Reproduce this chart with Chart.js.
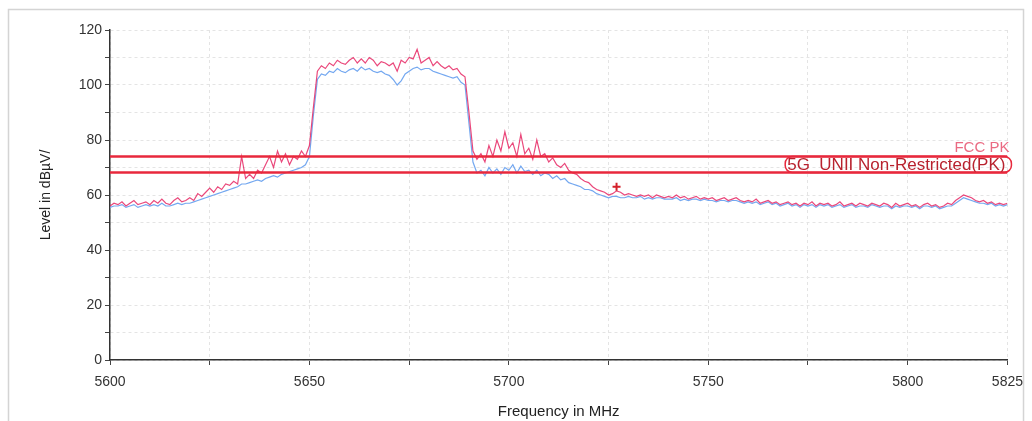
<!DOCTYPE html>
<html>
<head>
<meta charset="utf-8">
<script src="https://cdn.jsdelivr.net/npm/chart.js@4"></script>
<style>
  html, body { margin: 0; padding: 0; background: #fff; }
  #wrap { width: 1032px; height: 421px; }
</style>
</head>
<body>
<div id="wrap"><canvas id="chart1" width="1032" height="421"></canvas></div>
<script>
// frequency grid of the sweep, 1 MHz per point
const freqStart = 5600;
const freqStep = 1;

// peak trace (red)
const peakLevels = [
  56, 57, 56.5, 57.5, 56, 57, 58, 56.5, 57, 57.5,
  56.5, 58, 57, 58.5, 57, 56.5, 58, 59, 57.5, 58,
  59, 58, 60.5, 59.5, 61, 62.5, 61, 63, 62, 64,
  63.5, 65, 64, 74, 66, 67.5, 66, 69, 68, 71,
  74, 70, 76, 72, 75, 71, 74, 73, 76, 74,
  78, 92, 105, 107, 106, 108, 107, 109, 108, 107.5,
  109, 110, 108, 109.5, 108, 110, 109, 107, 108.5, 108,
  107, 108, 105, 109, 108, 110, 109.5, 113, 108, 109,
  110, 107, 108.5, 107, 106, 107, 105.5, 106, 104, 103,
  90, 76, 73, 75, 72, 78, 74, 80, 76, 83,
  77, 79, 74, 82, 75, 77, 73, 80, 74, 75,
  72, 73.5, 71, 70, 71.5, 69, 68, 67.5, 66, 65,
  64.5, 63, 62, 61.5, 61, 60, 60.5, 61.5, 61, 60,
  60.5, 60, 59.5, 60, 59.5, 60, 59, 60, 59.5, 59,
  59.5, 59, 60, 59, 59.5, 58.5, 59, 59.5, 58.5, 59,
  58.5, 59, 58, 58.5, 59, 58, 58.5, 59, 58, 57.5,
  58, 57.5, 58.5, 57, 57.5, 58, 57, 57.5, 56.5, 57,
  57.5, 56.5, 57, 56, 57, 56.5, 57.5, 56, 57, 56.5,
  57, 56, 56.5, 57.5, 56, 56.5, 57, 56, 57, 56.5,
  56, 57, 56.5, 56, 57, 56.5, 55.5, 57, 56, 56.5,
  57, 56, 56.5, 55.5, 56.5, 57, 56, 56.5, 55.5, 56,
  57, 56.5, 58, 59, 60, 59.5, 59, 58, 57.5, 58,
  57, 57.5, 56.5, 57, 56.5, 57
];

// average / second trace (blue)
const avgLevels = [
  55.5, 56, 56, 56.5, 55.5, 56, 56.5, 55.5, 56, 56.5,
  56, 56.5, 56, 57, 56, 56, 56.5, 57, 56.5, 57,
  57, 57.5, 58, 58.5, 59, 59.5, 60, 60.5, 61, 61.5,
  62, 62.5, 63, 64, 64, 64.5, 65, 65.5, 65, 66,
  66.5, 67, 66.5, 67.5, 68, 68.5, 69, 69.5, 70, 71,
  74, 89, 102, 104, 103.5, 105, 104.5, 106, 105, 104.5,
  105.5, 106, 105, 106.5, 105.5, 106, 105, 104.5, 105, 104,
  103.5, 102, 100, 101.5, 104, 105, 106, 106.5, 105.5, 106,
  106, 105, 104.5, 104, 103.5, 103, 102.5, 103, 101, 100,
  86, 72, 68, 69, 67, 70, 68, 69.5, 67.5, 70,
  69, 71, 68, 70.5, 68.5, 69, 67.5, 69, 67, 68,
  67.5, 66, 67, 65.5, 66, 64.5, 64, 63.5, 63, 62,
  62, 61.5, 60.5, 60, 59.5, 59, 59.5, 59.5, 59, 59,
  59.5, 59, 59, 59.5, 58.5, 59, 58.5, 59, 59, 58.5,
  58.5, 58.5, 59, 58, 58.5, 58, 58.5, 58.5, 58, 58.5,
  58, 58, 57.5, 58, 58, 57.5, 58, 58, 57.5, 57,
  57.5, 57, 57.5, 56.5, 57, 57.5, 56.5, 57, 56, 56.5,
  57, 56, 56.5, 55.5, 56.5, 56, 56.5, 55.5, 56.5, 56,
  56.5, 55.5, 56, 56.5, 55.5, 56, 56.5, 55.5, 56, 56,
  55.5, 56.5, 56, 55.5, 56, 56, 55, 56, 55.5, 56,
  56, 55.5, 56, 55, 56, 56, 55.5, 56, 55, 55.5,
  56, 56, 57, 58, 59, 58.5, 58, 57.5, 57, 57,
  56.5, 57, 56, 56.5, 56, 56.5
];

// limit lines
const limitNames = ["FCC PK", "5G_UNII Non-Restricted(PK)"];
const limitValues = [74, 68.2];

// final peak marker
const markerFreq = [5727];
const markerLevel = [63];

const xTickValues = [5600, 5625, 5650, 5675, 5700, 5725, 5750, 5775, 5800, 5825];
const xLabelValues = [5600, 5650, 5700, 5750, 5800, 5825];
const yLabelValues = [0, 20, 40, 60, 80, 100, 120];

const toPoints = (arr) => arr.map((v, i) => ({ x: freqStart + i * freqStep, y: v }));
const xMin = freqStart;
const xMax = freqStart + (peakLevels.length - 1) * freqStep;

const limitColor = "#e8283c";
const fontFamily = "'Liberation Sans', Arial, sans-serif";

const framePlugin = {
  id: "frame",
  beforeDraw(chart) {
    const ctx = chart.ctx;
    ctx.save();
    ctx.fillStyle = "#fff";
    ctx.fillRect(0, 0, chart.width, chart.height);
    ctx.strokeStyle = "#d4d4d4";
    ctx.lineWidth = 1.5;
    ctx.strokeRect(8.5, 9.5, 1015, 420);
    ctx.restore();
  },
  afterDatasetsDraw(chart) {
    const ctx = chart.ctx;
    const y = chart.scales.y;
    const right = chart.chartArea.right + 2;
    ctx.save();
    ctx.textAlign = "right";
    // FCC PK label
    ctx.font = "15px " + fontFamily;
    ctx.fillStyle = "#ea6a82";
    ctx.textBaseline = "bottom";
    ctx.fillText(limitNames[0], right, y.getPixelForValue(limitValues[0]) - 1);
    // 5G UNII label with rounded box
    ctx.font = "17px " + fontFamily;
    ctx.fillStyle = "#b8222e";
    ctx.textBaseline = "middle";
    const yTop = y.getPixelForValue(limitValues[0]);
    const yBot = y.getPixelForValue(limitValues[1]);
    const mid = (yTop + yBot) / 2;
    const w = ctx.measureText(limitNames[1]).width;
    ctx.fillText(limitNames[1], right - 4, mid + 1);
    ctx.strokeStyle = limitColor;
    ctx.lineWidth = 1.5;
    ctx.beginPath();
    ctx.roundRect(right - w - 6, yTop, w + 8, yBot - yTop, 7);
    ctx.stroke();
    ctx.restore();
  }
};

const ctx1 = document.getElementById("chart1").getContext("2d");

const spectrumChart = new Chart(ctx1, {
  type: "line",
  data: {
    datasets: [
      {
        label: limitNames[1],
        data: [{ x: xMin, y: limitValues[1] }, { x: xMax, y: limitValues[1] }],
        borderColor: limitColor,
        borderWidth: 2.5,
        pointRadius: 0,
        order: 1,
      },
      {
        label: limitNames[0],
        data: [{ x: xMin, y: limitValues[0] }, { x: xMax, y: limitValues[0] }],
        borderColor: limitColor,
        borderWidth: 2.5,
        pointRadius: 0,
        order: 1,
      },
      {
        label: "Marker",
        data: markerFreq.map((f, i) => ({ x: f, y: markerLevel[i] })),
        showLine: false,
        pointStyle: "cross",
        pointRadius: 4,
        borderColor: "#d4202a",
        borderWidth: 2,
        order: 0,
      },
      {
        label: "Peak",
        data: toPoints(peakLevels),
        borderColor: "rgba(230, 40, 100, 0.85)",
        borderWidth: 1.2,
        pointRadius: 0,
        tension: 0,
        order: 2,
      },
      {
        label: "Average",
        data: toPoints(avgLevels),
        borderColor: "#74a8f0",
        borderWidth: 1.2,
        pointRadius: 0,
        tension: 0,
        order: 3,
      },
    ],
  },
  plugins: [framePlugin],
  options: {
    responsive: false,
    animation: false,
    layout: { padding: { left: 38, right: 24, top: 30, bottom: 0 } },
    plugins: {
      legend: { display: false },
      tooltip: { enabled: false },
    },
    scales: {
      x: {
        type: "linear",
        min: xMin,
        max: xMax,
        afterBuildTicks: (scale) => {
          scale.ticks = xTickValues.map((v) => ({ value: v }));
        },
        afterFit: (scale) => { scale.height = 61; },
        ticks: {
          autoSkip: false,
          maxRotation: 0,
          color: "#333",
          font: { size: 14, family: fontFamily },
          padding: 9,
          callback: (v) => (xLabelValues.includes(v) ? String(v) : ""),
        },
        grid: {
          color: "#e4e4e4",
          tickColor: "#444",
          tickLength: 5,
        },
        border: { color: "#333", width: 1.5, dash: [3, 3] },
        title: {
          display: true,
          text: "Frequency in MHz",
          color: "#222",
          font: { size: 15, family: fontFamily },
          padding: { top: 2, bottom: 0 },
        },
      },
      y: {
        min: 0,
        max: 120,
        afterBuildTicks: (scale) => {
          const t = [];
          for (let v = 0; v <= 120; v += 10) t.push({ value: v });
          scale.ticks = t;
        },
        afterFit: (scale) => { scale.width = 72; },
        ticks: {
          autoSkip: false,
          color: "#333",
          font: { size: 14, family: fontFamily },
          padding: 3,
          callback: (v) => (yLabelValues.includes(v) ? String(v) : ""),
        },
        grid: {
          color: "#e4e4e4",
          tickColor: "#444",
          tickLength: 5,
        },
        border: { color: "#333", width: 1.5, dash: [3, 3] },
        title: {
          display: true,
          text: "Level in dBµV/",
          color: "#222",
          font: { size: 14, family: fontFamily },
          padding: { top: 0, bottom: 10 },
        },
      },
    },
  },
});
</script>
</body>
</html>
